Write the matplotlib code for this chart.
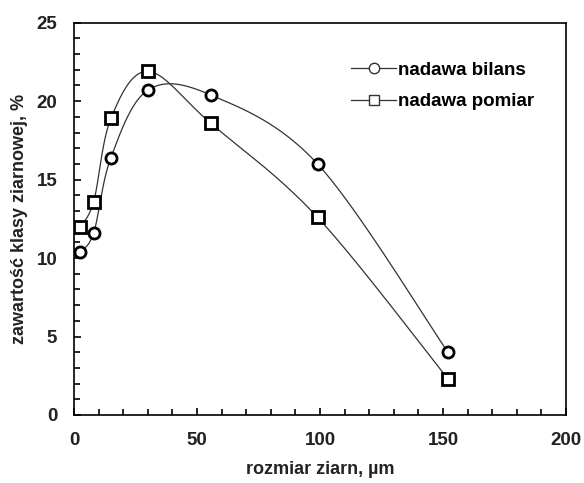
import matplotlib.pyplot as plt
import numpy as np

# data
rozmiar = [2.5, 8, 15, 30, 55.5, 99, 152]
bilans = [10.4, 11.6, 16.4, 20.7, 20.4, 16.0, 4.0]
pomiar = [12.0, 13.6, 18.9, 21.9, 18.6, 12.6, 2.3]
labels = ["nadawa bilans", "nadawa pomiar"]


def smooth(x, y, n=40):
    """Excel-like smoothed line (Catmull-Rom as cubic Bezier)."""
    x = np.asarray(x, float)
    y = np.asarray(y, float)
    p = np.column_stack([x, y])
    out = [p[0]]
    t = np.linspace(0, 1, n)[1:]
    for i in range(len(p) - 1):
        p0 = p[i - 1] if i > 0 else p[i]
        p3 = p[i + 2] if i + 2 < len(p) else p[i + 1]
        p1, p2 = p[i], p[i + 1]
        c1 = p1 + (p2 - p0) / 6
        c2 = p2 - (p3 - p1) / 6
        for tt in t:
            out.append((1 - tt) ** 3 * p1 + 3 * (1 - tt) ** 2 * tt * c1
                       + 3 * (1 - tt) * tt ** 2 * c2 + tt ** 3 * p2)
    out = np.array(out)
    return out[:, 0], out[:, 1]


plt.rcParams['font.family'] = ['Liberation Sans', 'DejaVu Sans']

fig = plt.figure(figsize=(5.84, 4.83), dpi=100)
ax = fig.add_axes([0.1267, 0.1408, 0.8425, 0.8122])

for yv, mk, lab in [(bilans, 'o', labels[0]), (pomiar, 's', labels[1])]:
    sx, sy = smooth(rozmiar, yv)
    ax.plot(sx, sy, color='#333333', lw=0.9, zorder=2)
    ax.plot(rozmiar, yv, linestyle='none', marker=mk, markersize=8,
            markerfacecolor='white', markeredgecolor='black',
            markeredgewidth=2, zorder=3)
    ax.plot([], [], color='#333333', lw=0.9, marker=mk, markersize=7.5,
            markerfacecolor='white', markeredgecolor='#333333',
            markeredgewidth=1, label=lab)

ax.set_xlim(0, 200)
ax.set_ylim(0, 25)
ax.set_xticks(np.arange(0, 201, 50))
ax.set_xticks(np.arange(0, 201, 10), minor=True)
ax.set_yticks(np.arange(0, 26, 5))
ax.set_yticks(np.arange(0, 26, 1), minor=True)
ax.tick_params(which='both', direction='in', top=False, right=False,
               labelsize=13.5, width=1.2)
ax.tick_params(which='major', length=5)
ax.tick_params(which='minor', length=4)
ax.tick_params(axis='x', which='major', pad=12)
ax.tick_params(axis='y', which='major', pad=12)
for lbl in ax.get_xticklabels() + ax.get_yticklabels():
    lbl.set_fontweight('bold')
    lbl.set_color('#222222')
for s in ax.spines.values():
    s.set_linewidth(1.2)

ax.set_xlabel("rozmiar ziarn, µm", fontsize=13, fontweight='bold', labelpad=9,
              color='#222222')
ax.set_ylabel("zawartość klasy ziarnowej, %", fontsize=13, fontweight='bold',
              labelpad=6, color='#222222')

ax.legend(loc='upper right', bbox_to_anchor=(0.935, 0.9), frameon=False,
          prop={'size': 13.5, 'weight': 'bold'}, handlelength=2.4,
          handletextpad=0.1, labelspacing=0.75, borderpad=0, borderaxespad=0)

fig.savefig("out.png", dpi=100)
